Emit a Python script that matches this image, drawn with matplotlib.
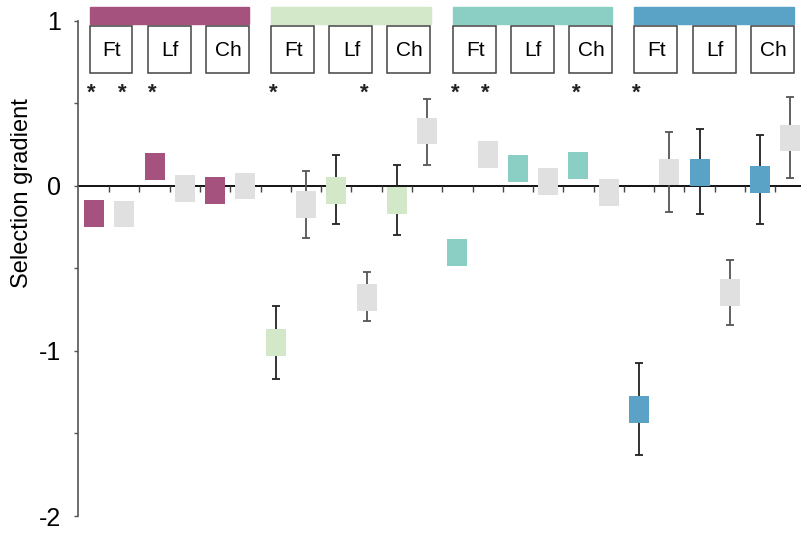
import numpy as np
import matplotlib.pyplot as plt
from matplotlib.patches import Rectangle

plt.rcParams['font.family'] = ['Liberation Sans', 'DejaVu Sans']

group_colors = ['#a5527f', '#d3e8c8', '#8bcfc4', '#5aa3c6']
grey = '#e0e0e0'
traits = ['Ft', 'Lf', 'Ch']

# one estimate per box: (colored, grey) pair for each trait, four groups
estimates = [-0.165, -0.17, 0.12, -0.015, -0.027, 0.0,
             -0.947, -0.111, -0.026, -0.675, -0.087, 0.333,
             -0.402, 0.19, 0.107, 0.028, 0.125, -0.041,
             -1.353, 0.085, 0.083, -0.644, 0.037, 0.29]
nan = np.nan
upper = [nan] * 6 + [-0.725, 0.093, 0.19, -0.52, 0.127, 0.53] + \
        [nan] * 6 + [-1.075, 0.325, 0.343, -0.447, 0.307, 0.54]
lower = [nan] * 6 + [-1.172, -0.313, -0.232, -0.82, -0.30, 0.13] + \
        [nan] * 6 + [-1.63, -0.156, -0.168, -0.842, -0.228, 0.047]
star_idx = [0, 1, 2, 6, 9, 12, 13, 16, 18]

fig = plt.figure(figsize=(8.01, 5.33), dpi=100)
ax = fig.add_axes([78 / 801, 17 / 533, 1 - 78 / 801, 516 / 533])

x = np.arange(len(estimates))
colors = []
for g in range(4):
    for t in range(3):
        colors += [group_colors[g], grey]

box_h = 0.162
for i in x:
    if not np.isnan(upper[i]):
        ec = '#222222' if colors[i] != grey else '#555555'
        ax.errorbar(i, estimates[i],
                    yerr=[[estimates[i] - lower[i]], [upper[i] - estimates[i]]],
                    fmt='none', ecolor=ec, elinewidth=1.3, capsize=2.6,
                    capthick=1.3, zorder=2)
ax.bar(x, box_h, bottom=np.array(estimates) - box_h / 2, width=0.66,
       color=colors, zorder=3)

# group header bars, trait boxes
for g in range(4):
    gs = g * 6
    ax.add_patch(Rectangle((gs - 0.15, 0.982), 5.27, 0.103, color=group_colors[g],
                           clip_on=False, zorder=4))
    for p, t in enumerate(traits):
        left = gs - 0.15 + p * 1.92
        ax.add_patch(Rectangle((left, 0.685), 1.42, 0.285, facecolor='white',
                               edgecolor='#444444', lw=1.1, clip_on=False, zorder=4))
        ax.text(left + 0.74, 0.822, t, ha='center', va='center', fontsize=15,
                zorder=5)

for i in star_idx:
    ax.text(i - 0.08, 0.53, '*', ha='center', va='baseline', fontsize=16,
            fontweight='bold', color='#222222')

ax.set_xlim(-0.53, 23.35)
ax.set_ylim(-2, 1.127)

ax.spines['top'].set_visible(False)
ax.spines['right'].set_visible(False)
ax.spines['left'].set_bounds(-2, 1)
ax.spines['left'].set_color('#555555')
ax.spines['left'].set_linewidth(1.2)
ax.spines['bottom'].set_position(('data', 0))
ax.spines['bottom'].set_linewidth(1.3)
ax.spines['bottom'].set_zorder(1)

ax.set_xticks(np.arange(0.5, 23, 1))
ax.tick_params(axis='x', direction='out', length=4, width=1, color='#444444',
               labelbottom=False)
ax.set_yticks([-2, -1, 0, 1])
ax.set_yticklabels(['-2', '-1', '0', '1'])
ax.set_yticks([-1.5, -0.5, 0.5], minor=True)
ax.tick_params(axis='y', which='both', direction='out', length=3, width=1,
               color='#555555', labelsize=18, pad=9)
ax.set_ylabel('Selection gradient', fontsize=17)
ax.yaxis.set_label_coords(-0.062, 0.625)

fig.savefig('out.png', dpi=100)
